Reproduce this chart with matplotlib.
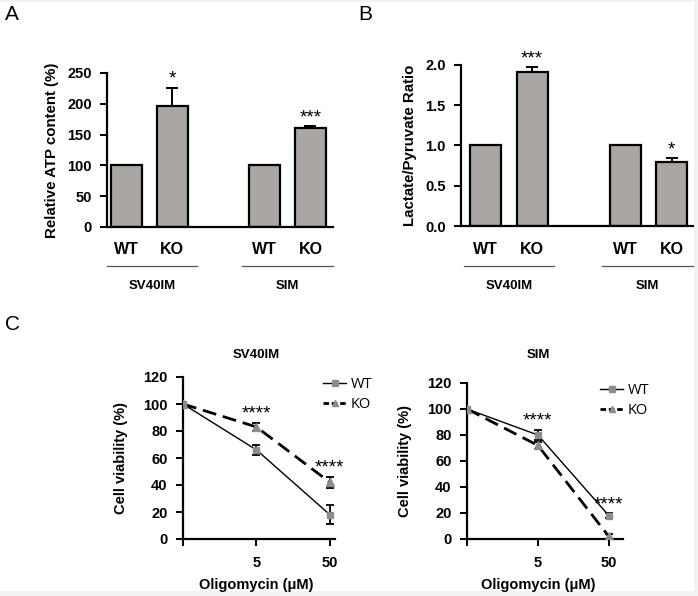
import matplotlib
matplotlib.use("Agg")
import matplotlib.pyplot as plt
from matplotlib.transforms import blended_transform_factory
from matplotlib.patches import Rectangle
from matplotlib.lines import Line2D

plt.rcParams['font.family'] = ['Liberation Sans', 'DejaVu Sans']

W, H = 698, 596

# ---------------- data ----------------
bar_labels = ["WT", "KO", "WT", "KO"]
groups = ["SV40IM", "SIM"]
atp_values = [100, 197, 100, 160]
atp_errors = [0, 29, 0, 4]
atp_stars = ["", "*", "", "***"]
lp_values = [1.0, 1.91, 1.0, 0.80]
lp_errors = [0, 0.06, 0, 0.04]
lp_stars = ["", "***", "", "*"]

dose_labels = ["", "5", "50"]
sv_wt = [100, 66, 18]
sv_wt_err = [0, 4, 7]
sv_ko = [100, 83, 42]
sv_ko_err = [0, 3, 4]
sim_wt = [100, 80, 18]
sim_wt_err = [0, 4, 2]
sim_ko = [100, 72, 2]
sim_ko_err = [0, 3, 2]
dose_stars = ["", "****", "****"]

fig = plt.figure(figsize=(W / 100, H / 100), dpi=100)
fig.patch.set_facecolor('#f2f2f2')
fig.patches.append(Rectangle((0, 1 - 591 / H), 694 / W, 589 / H, transform=fig.transFigure,
                             facecolor='white', edgecolor='none', zorder=-10))


def rect(l, t, r, b):
    return [l / W, 1 - b / H, (r - l) / W, (b - t) / H]


def fy(py):
    return 1 - py / H


def style_axes(ax):
    for s in ['top', 'right']:
        ax.spines[s].set_visible(False)
    for s in ['left', 'bottom']:
        ax.spines[s].set_linewidth(1.6)
    ax.tick_params(direction='out', length=5, width=1.4, labelsize=10.5, pad=6)
    for lab in ax.get_yticklabels() + ax.get_xticklabels():
        lab.set_fontweight('bold')


bar_color = '#a9a6a4'
positions = [0, 1, 3, 4]


def bar_panel(ax, values, errors, stars, ylim, yticks, yfmt, ylabel, star_off, group_lines):
    ax.bar(positions, values, width=0.67, color=bar_color, edgecolor='black', linewidth=1.6,
           zorder=2)
    ax.errorbar(positions, values, yerr=[[0] * 4, errors], fmt='none', ecolor='black',
                elinewidth=1.4, capsize=4, capthick=1.4, zorder=1)
    ax.set_ylim(*ylim)
    ax.set_yticks(yticks)
    ax.set_yticklabels([yfmt.format(v) for v in yticks])
    ax.set_xticks([])
    ax.set_ylabel(ylabel, fontsize=10.8, fontweight='bold', labelpad=6)
    style_axes(ax)
    for p, v, e, s in zip(positions, values, errors, stars):
        if s:
            ax.annotate(s, (p, v + e), xytext=(0, star_off), textcoords='offset points',
                        ha='center', va='bottom', fontsize=13.5)
    tr = blended_transform_factory(ax.transData, fig.transFigure)
    for p, lab in zip(positions, bar_labels):
        ax.text(p, fy(250), lab, transform=tr, ha='center', va='center', fontsize=11.5,
                fontweight='bold')
    for (x0, x1), g in zip(group_lines, groups):
        ax.add_line(Line2D([x0, x1], [fy(266)] * 2, transform=tr, color='#555555',
                           linewidth=0.9, clip_on=False))
        ax.text((x0 + x1) / 2, fy(286), g, transform=tr, ha='center', va='center',
                fontsize=9.5, fontweight='bold')


# Panel A
axA = fig.add_axes(rect(107, 73, 333, 227))
axA.set_xlim(-0.42, 4.49)
bar_panel(axA, atp_values, atp_errors, atp_stars, (0, 250), [0, 50, 100, 150, 200, 250],
          "{:.0f}", "Relative ATP content (%)", 0, [(-0.42, 1.53), (2.51, 4.49)])

# Panel B
axB = fig.add_axes(rect(461, 65, 693, 226))
axB.set_xlim(-0.53, 4.46)
bar_panel(axB, lp_values, lp_errors, lp_stars, (0, 2.0), [0.0, 0.5, 1.0, 1.5, 2.0],
          "{:.1f}", "Lactate/Pyruvate Ratio", 0, [(-0.46, 1.47), (2.51, 4.46)])

fig.text(5 / W, fy(14), "A", fontsize=15, va='center', ha='left')
fig.text(358 / W, fy(14), "B", fontsize=15, va='center', ha='left')
fig.text(5 / W, fy(325), "C", fontsize=15, va='center', ha='left')


def line_panel(ax, wt, wt_err, ko, ko_err, title, xmax, legend_anchor):
    x = [0, 1, 2]
    ax.plot(x, wt, color='black', linewidth=1.0, zorder=2)
    ax.plot(x, ko, color='black', linewidth=2.0, linestyle=(0, (5, 2.5)), zorder=2)
    ax.errorbar(x, wt, yerr=wt_err, fmt='none', ecolor='black', elinewidth=1.3, capsize=3,
                capthick=1.3, zorder=3)
    ax.errorbar(x, ko, yerr=ko_err, fmt='none', ecolor='black', elinewidth=1.3, capsize=3,
                capthick=1.3, zorder=3)
    ax.plot(x, wt, linestyle='none', marker='s', markersize=5, color='#8c8c8c', zorder=4)
    ax.plot(x, ko, linestyle='none', marker='^', markersize=6, color='#8c8c8c', zorder=4)
    ax.set_xlim(0, xmax)
    ax.set_ylim(0, 120)
    ax.set_yticks(range(0, 121, 20))
    ax.set_xticks(x)
    ax.set_xticklabels(dose_labels)
    ax.set_ylabel("Cell viability (%)", fontsize=10.5, fontweight='bold', labelpad=11)
    style_axes(ax)
    ax.tick_params(axis='x', pad=7)
    cx = ax.transData.transform((1, 0))[0] / W
    fig.text(cx, fy(355), title, fontsize=9.5, fontweight='bold', ha='center', va='center')
    fig.text(cx, fy(585), "Oligomycin (\u03bcM)", fontsize=10.5, fontweight='bold',
             ha='center', va='center')
    for xi, a, ae, b, be, s in zip(x, wt, wt_err, ko, ko_err, dose_stars):
        if s:
            top = max(a + ae, b + be)
            ax.annotate(s, (xi, top), xytext=(0, 0), textcoords='offset points',
                        ha='center', va='bottom', fontsize=13.5)
    h_wt = Line2D([], [], color='black', linewidth=1.0, marker='s', markersize=4,
                  markerfacecolor='#8c8c8c', markeredgecolor='#8c8c8c')
    h_ko = Line2D([], [], color='black', linewidth=2.0, linestyle=(0, (2, 1)), marker='^',
                  markersize=5, markerfacecolor='#8c8c8c', markeredgecolor='#8c8c8c')
    fig.legend([h_wt, h_ko], ["WT", "KO"], loc='upper left',
               bbox_to_anchor=(legend_anchor[0] / W, fy(legend_anchor[1])),
               frameon=False, handlelength=1.6, handletextpad=0.3,
               labelspacing=0.35, borderpad=0, borderaxespad=0,
               prop={'family': 'Open Sans', 'size': 10.5})


axC1 = fig.add_axes(rect(183, 377, 335, 539))
line_panel(axC1, sv_wt, sv_wt_err, sv_ko, sv_ko_err, "SV40IM", 2.07, (323, 377))
axC2 = fig.add_axes(rect(467, 383, 623, 539))
line_panel(axC2, sim_wt, sim_wt_err, sim_ko, sim_ko_err, "SIM", 2.2, (600, 383))

fig.savefig("out.png", dpi=100, facecolor=fig.get_facecolor())
